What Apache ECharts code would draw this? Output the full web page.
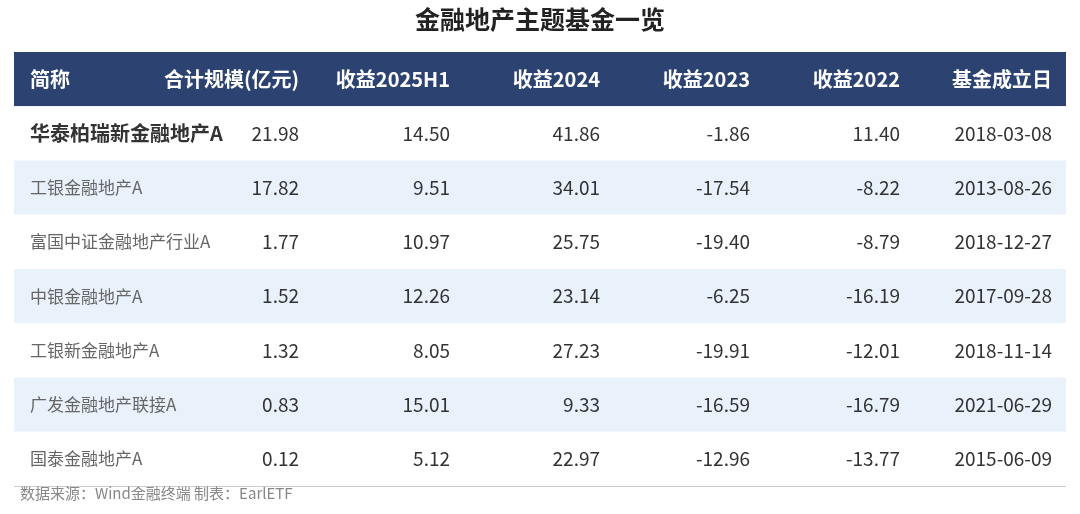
<!DOCTYPE html><html><head><meta charset="utf-8"><script src="https://cdn.jsdelivr.net/npm/echarts@6/dist/echarts.min.js"></script>
<style>body{margin:0}#c{width:1080px;height:514px}</style></head><body><div id="c"></div><script>
const headers=['简称','合计规模(亿元)','收益2025H1','收益2024','收益2023','收益2022','基金成立日'];
const names=['华泰柏瑞新金融地产A','工银金融地产A','富国中证金融地产行业A','中银金融地产A','工银新金融地产A','广发金融地产联接A','国泰金融地产A'];
const scale=['21.98','17.82','1.77','1.52','1.32','0.83','0.12'];
const r2025H1=['14.50','9.51','10.97','12.26','8.05','15.01','5.12'];
const r2024=['41.86','34.01','25.75','23.14','27.23','9.33','22.97'];
const r2023=['-1.86','-17.54','-19.40','-6.25','-19.91','-16.59','-12.96'];
const r2022=['11.40','-8.22','-8.79','-16.19','-12.01','-16.79','-13.77'];
const dates=['2018-03-08','2013-08-26','2018-12-27','2017-09-28','2018-11-14','2021-06-29','2015-06-09'];
const rows=[headers].concat(names.map((n,i)=>[n,scale[i],r2025H1[i],r2024[i],r2023[i],r2022[i],dates[i]]));
const colX=[30,299,450,600,750,900,1052];
const colAlign=['left','right','right','right','right','right','right'];
const F='"Noto Sans CJK SC","Noto Sans",sans-serif';
const chart=echarts.init(document.getElementById('c'));
chart.setOption({
 title:{text:'金融地产主题基金一览',left:'center',top:2,textStyle:{fontSize:25,fontWeight:'bold',color:'#222',fontFamily:F}},
 graphic:[{type:'text',left:20,top:486,style:{text:'数据来源：Wind金融终端 制表：EarlETF',fontSize:15,fill:'#888',fontFamily:F}},
  {type:'line',shape:{x1:14,y1:486,x2:1066,y2:486},style:{stroke:'#999',lineWidth:1}}],
 grid:{left:14,right:14,top:52,bottom:28},
 xAxis:{type:'value',min:14,max:1066,show:false},
 yAxis:{type:'category',inverse:true,data:rows.map((r,i)=>i),show:false},
 series:[{type:'custom',data:rows.map((r,i)=>[i]),renderItem:(p,api)=>{
  const i=api.value(0);const r=rows[i];
  const c0=api.coord([14,i]);const c1=api.coord([1066,i]);const h=api.size([0,1])[1];
  const top=c0[1]-h/2;
  const fill=i===0?'#2c4372':(i%2===0?'#e9f2fb':'#ffffff');
  const ch=[{type:'rect',shape:{x:c0[0],y:top,width:c1[0]-c0[0],height:h},style:{fill}}];
  r.forEach((t,j)=>{const p2=api.coord([colX[j],i]);
   ch.push({type:'text',x:p2[0],y:p2[1],style:{text:t,align:colAlign[j],verticalAlign:'middle',fontFamily:F,
    fontSize:i===0?20:(j===0?(i===1?20:17):19),fontWeight:(i===0||(i===1&&j===0))?'bold':'normal',
    fill:i===0?'#ffffff':(j===0&&i>1?'#666':'#333')}});});
  return {type:'group',children:ch};
 }}]
});
</script></body></html>
